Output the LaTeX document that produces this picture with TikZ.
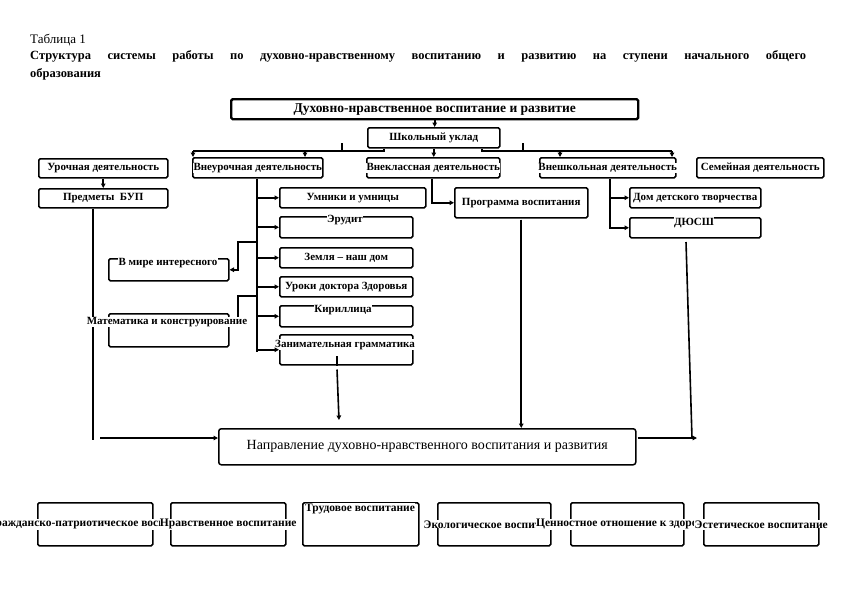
\documentclass[tikz,border=0pt]{standalone}
\usepackage{fontspec}
\setmainfont{Liberation Serif}
\usetikzlibrary{arrows.meta}
\begin{document}
\begin{tikzpicture}[x=1pt,y=-1pt,
  bx/.style={draw, line width=1.5pt, rounded corners=1.5pt, inner sep=0pt, anchor=north west},
  tx/.style={inner sep=0.3pt, fill=white, font=\bfseries\fontsize{11}{12}\selectfont},
  bt/.style={inner sep=0.3pt, fill=white, font=\bfseries\fontsize{11.5}{12}\selectfont},
  ln/.style={line width=1.6pt},
  ar/.style={line width=1.6pt, -{Triangle[length=4.5pt,width=4.5pt]}}
]
\useasboundingbox (0,0) rectangle (842,595);

% titles
\node[anchor=base west, inner sep=0, font=\fontsize{13}{15}\selectfont] (tab) at (30,43) {Таблица 1};
\node[anchor=north west, inner sep=0, text width=776pt, align=justify, font=\bfseries\fontsize{12.5}{17.5}\selectfont] (title) at (30,50.5) {Структура системы работы по духовно-нравственному воспитанию и развитию на ступени начального общего\linebreak образования};

% top
\node[bx, line width=2.4pt, minimum width=407pt, minimum height=20pt] (top) at (230,98) {};
\node[tx, font=\bfseries\fontsize{13.5}{14}\selectfont] (ttop) at (top.center) {Духовно-нравственное воспитание и развитие};
\node[bx, minimum width=132pt, minimum height=20pt] (shk) at (367,127) {};
\node[tx] (tshk) at (shk.center) {Школьный уклад};

% row 2
\node[bx, minimum width=129pt, minimum height=19pt] (uroch) at (38,158) {};
\node[tx] (turoch) at (uroch.center) {Урочная деятельность};
\node[bx, minimum width=130pt, minimum height=20pt] (vneur) at (192,157) {};
\node[tx] (tvneur) at (vneur.center) {Внеурочная деятельность};
\node[bx, minimum width=133pt, minimum height=20pt] (vnekl) at (366,157) {};
\node[tx] (tvnekl) at (vnekl.center) {Внеклассная деятельность};
\node[bx, minimum width=136pt, minimum height=20pt] (vnesh) at (539,157) {};
\node[tx] (tvnesh) at (vnesh.center) {Внешкольная деятельность};
\node[bx, minimum width=127pt, minimum height=20pt] (sem) at (696,157) {};
\node[tx] (tsem) at (sem.center) {Семейная деятельность};

% row 3
\node[bx, minimum width=129pt, minimum height=19pt] (bup) at (38,188) {};
\node[tx] (tbup) at (bup.center) {Предметы\ \ БУП};
\node[bx, minimum width=146pt, minimum height=20pt] (umn) at (279,187) {};
\node[tx] (tumn) at (umn.center) {Умники и умницы};
\node[bx, minimum width=133pt, minimum height=21pt] (erud) at (279,216) {};
\node[tx, anchor=base] (terud) at (345,222) {Эрудит};
\node[bx, minimum width=133pt, minimum height=20pt] (zem) at (279,247) {};
\node[tx] (tzem) at (zem.center) {Земля – наш дом};
\node[bx, minimum width=133pt, minimum height=20pt] (urok) at (279,276) {};
\node[tx] (turok) at (urok.center) {Уроки доктора Здоровья};
\node[bx, minimum width=133pt, minimum height=21pt] (kir) at (279,305) {};
\node[tx, anchor=base] (tkir) at (343,312) {Кириллица};
\node[bx, minimum width=133pt, minimum height=30pt] (zan) at (279,334) {};
\node[tx, anchor=base] (tzan) at (345,347) {Занимательная грамматика};
\node[bx, minimum width=120pt, minimum height=22pt] (mir) at (108,258) {};
\node[bx, minimum width=120pt, minimum height=33pt] (mat) at (108,313) {};
\node[bx, minimum width=133pt, minimum height=30pt] (prog) at (454,187) {};
\node[tx] (tprog) at (prog.center) {Программа воспитания};
\node[bx, minimum width=131pt, minimum height=20pt] (dom) at (629,187) {};
\node[tx] (tdom) at (dom.center) {Дом детского творчества};
\node[bx, minimum width=131pt, minimum height=20pt] (dyu) at (629,217) {};
\node[tx, anchor=base] (tdyu) at (694,225) {ДЮСШ};

% direction box
\node[bx, minimum width=417pt, minimum height=36pt, rounded corners=2.5pt] (napr) at (218,428) {};
\node[inner sep=0.3pt, font=\fontsize{14}{15}\selectfont] (tnapr) at (napr.center) {Направление духовно-нравственного воспитания и развития};

% connectors top
\draw[ar] (top.south) -- (top.south |- shk.north);
\coordinate (j1) at (384,151);
\coordinate (j2) at (193,151);
\coordinate (j3) at (305,151);
\coordinate (k1) at (342,143);
\draw[ln] (shk.south -| j1) -- (j1) -- (j2);
\draw[ar] (j2) -- (vneur.north -| j2);
\draw[ar] (j3) -- (vneur.north -| j3);
\draw[ln] (k1) -- (k1 |- j1);
\draw[ar] (shk.south) -- (shk.south |- vnekl.north);
\coordinate (j4) at (482,151);
\coordinate (j5) at (672,151);
\coordinate (j6) at (560,151);
\coordinate (k2) at (523,143);
\draw[ln] (shk.south -| j4) -- (j4) -- (j5);
\draw[ar] (j5) -- (vnesh.north -| j5);
\draw[ar] (j6) -- (vnesh.north -| j6);
\draw[ln] (k2) -- (k2 |- j4);

% left column
\draw[ar] (uroch.south) -- (bup.north);
\coordinate (c1) at (93,440);
\coordinate (c2) at (100,438);
\draw[ln] (bup.south -| c1) -- (c1);
\draw[ar] (c2) -- (napr.west |- c2);

% vneurochnaya tree
\coordinate (v0) at (257,352);
\draw[ln] (vneur.south -| v0) -- (v0);
\draw[ar] (umn.west -| v0) -- (umn.west);
\draw[ar] (erud.west -| v0) -- (erud.west);
\draw[ar] (zem.west -| v0) -- (zem.west);
\draw[ar] (urok.west -| v0) -- (urok.west);
\draw[ar] (kir.west -| v0) -- (kir.west);
\draw[ar] (zan.west -| v0) -- (zan.west);
\coordinate (m1) at (238,242);
\coordinate (m2) at (238,296);
\draw[ar] (m1 -| v0) -- (m1) |- (mir.east);
\draw[ar] (m2 -| v0) -- (m2) |- ([yshift=7pt]mat.east);
\node[tx, anchor=base] (tmir) at (168,265) {В мире интересного};
\node[tx, anchor=base] (tmat) at (167,324) {Математика и конструирование};

% zan down
\coordinate (z0) at (337,356);
\coordinate (z1) at (339,420);
\draw[ln] (z0) -- (z0 |- zan.south);
\draw[ar] ([yshift=-4pt]zan.south -| z0) -- (z1);

% vneklassnaya
\coordinate (p1) at (432,202);
\draw[ar] (vnekl.south -| p1) |- (prog.west);
\draw[ar] ([yshift=-1pt]prog.south) -- (prog.south |- napr.north);

% vneshkolnaya
\coordinate (w1) at (610,177);
\draw[ar] (dom.west -| w1) -- (dom.west);
\draw[ar] (vnesh.south -| w1) |- (dyu.west);
\coordinate (r1) at (686,242);
\coordinate (r2) at (692,438);
\coordinate (r3) at (697,438);
\draw[ln] (r1) -- (r2);
\draw[ar] ([xshift=1pt]napr.east |- r3) -- (r3);

% bottom row
\node[bx, minimum width=115pt, minimum height=43pt] (b1) at (37,502) {};
\node[bx, minimum width=115pt, minimum height=43pt] (b2) at (170,502) {};
\node[bx, minimum width=116pt, minimum height=43pt] (b3) at (302,502) {};
\node[bx, minimum width=113pt, minimum height=43pt] (b4) at (437,502) {};
\node[bx, minimum width=113pt, minimum height=43pt] (b5) at (570,502) {};
\node[bx, minimum width=115pt, minimum height=43pt] (b6) at (703,502) {};
\node[bt] (tb1) at (b1.center) {Гражданско-патриотическое воспитание};
\node[bt] (tb2) at (b2.center) {Нравственное воспитание};
\node[bt, anchor=base] (tb3) at (360,511) {Трудовое воспитание};
\node[bt] (tb4) at (b4.center) {Экологическое воспитание};
\node[bt] (tb5) at (b5.center) {Ценностное отношение к здоровью};
\node[bt] (tb6) at (b6.center) {Эстетическое воспитание};
\end{tikzpicture}
\end{document}
